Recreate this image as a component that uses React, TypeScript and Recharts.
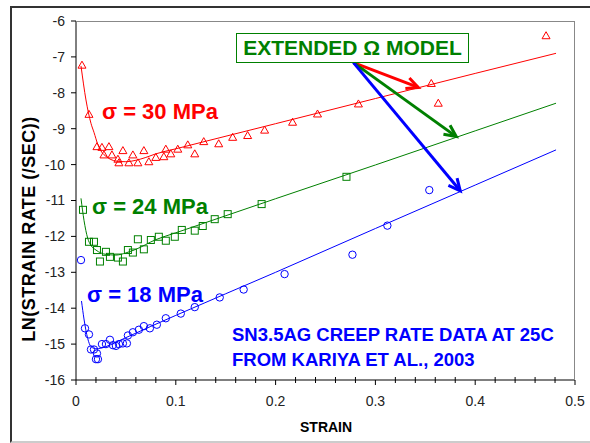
import React from "react";
import { ComposedChart, Line, Scatter, XAxis, YAxis, ReferenceLine } from "recharts";

const FONT = "Arial, 'Liberation Sans', sans-serif";
const RED = "#ff0000";
const GREEN = "#008000";
const BLUE = "#0000ff";

// sigma = 30 MPa, measured
const redStrain = [0.006, 0.013, 0.021, 0.026, 0.028, 0.033, 0.036, 0.042, 0.043, 0.047, 0.053, 0.057, 0.062, 0.068, 0.073, 0.08, 0.088, 0.09, 0.095, 0.102, 0.112, 0.119, 0.128, 0.143, 0.157, 0.172, 0.189, 0.217, 0.242, 0.283, 0.356, 0.363, 0.471];
const redRate = [-7.23, -8.6, -9.5, -9.52, -9.73, -9.5, -9.73, -9.85, -9.95, -9.61, -9.95, -9.73, -9.95, -9.61, -9.92, -9.8, -9.78, -9.57, -9.7, -9.57, -9.45, -9.7, -9.36, -9.42, -9.24, -9.19, -9.04, -8.82, -8.59, -8.31, -7.74, -8.29, -6.41];

// sigma = 24 MPa, measured
const greenStrain = [0.007, 0.013, 0.018, 0.021, 0.024, 0.03, 0.034, 0.042, 0.047, 0.052, 0.057, 0.062, 0.068, 0.075, 0.083, 0.09, 0.099, 0.106, 0.119, 0.127, 0.139, 0.152, 0.186, 0.271];
const greenRate = [-11.26, -12.15, -12.15, -12.38, -12.7, -12.43, -12.57, -12.59, -12.7, -12.38, -12.45, -12.08, -12.36, -12.1, -12.01, -12.12, -12.01, -11.82, -11.84, -11.71, -11.52, -11.38, -11.1, -10.34];

// sigma = 18 MPa, measured
const blueStrain = [0.005, 0.009, 0.013, 0.015, 0.018, 0.02, 0.021, 0.022, 0.026, 0.03, 0.034, 0.037, 0.04, 0.043, 0.047, 0.051, 0.052, 0.057, 0.063, 0.068, 0.074, 0.081, 0.09, 0.105, 0.119, 0.144, 0.168, 0.209, 0.277, 0.312, 0.354];
const blueRate = [-12.66, -14.56, -14.73, -15.15, -15.15, -15.42, -15.26, -15.42, -15.0, -15.0, -14.88, -15.03, -15.05, -15.0, -14.98, -14.98, -14.76, -14.67, -14.6, -14.5, -14.56, -14.46, -14.28, -14.15, -13.97, -13.7, -13.48, -13.05, -12.51, -11.7, -10.71];

// extended omega model curves
const redFitStrain = [0.005, 0.01, 0.015, 0.018, 0.022, 0.026, 0.03, 0.04, 0.05, 0.06, 0.07, 0.08, 0.1, 0.2, 0.3, 0.4, 0.481];
const redFitRate = [-7.25, -8.2, -8.85, -9.1, -9.45, -9.66, -9.77, -9.9, -9.92, -9.88, -9.8, -9.7, -9.56, -8.86, -8.16, -7.46, -6.9];
const greenFitStrain = [0.005, 0.008, 0.0117, 0.015, 0.02, 0.03, 0.04, 0.05, 0.06, 0.08, 0.1, 0.2, 0.3, 0.4, 0.481];
const greenFitRate = [-10.94, -11.55, -12.05, -12.25, -12.38, -12.5, -12.52, -12.46, -12.36, -12.09, -11.9, -10.95, -10.01, -9.06, -8.29];
const blueFitStrain = [0.0055, 0.008, 0.0117, 0.015, 0.02, 0.03, 0.04, 0.05, 0.1, 0.2, 0.3, 0.4, 0.481];
const blueFitRate = [-13.8, -14.3, -14.84, -15.07, -15.13, -15.07, -14.95, -14.82, -14.2, -13.0, -11.78, -10.57, -9.59];

// arrows from the "EXTENDED Ω MODEL" box to each curve
const arrowStart = { x: 0.278, y: -7.16 };
const arrowEnds = [
  { x: 0.343, y: -7.85, color: RED },
  { x: 0.381, y: -9.22, color: GREEN },
  { x: 0.385, y: -10.73, color: BLUE },
];

const xTicks = [0, 0.02, 0.04, 0.06, 0.08, 0.1, 0.12, 0.14, 0.16, 0.18, 0.2, 0.22, 0.24, 0.26, 0.28, 0.3, 0.32, 0.34, 0.36, 0.38, 0.4, 0.42, 0.44, 0.46, 0.48, 0.5];
const yTicks = [-16, -15, -14, -13, -12, -11, -10, -9, -8, -7, -6];

const pts = (xs: number[], ys: number[]) => xs.map((x, i) => ({ x, y: ys[i] }));

const Triangle = (p: any) => (
  <path d={`M${p.cx},${p.cy - 4} L${p.cx + 4},${p.cy + 3} L${p.cx - 4},${p.cy + 3} Z`} fill="none" stroke={RED} strokeWidth={1} />
);
const Square = (p: any) => (
  <rect x={p.cx - 3.5} y={p.cy - 3.5} width={7} height={7} fill="none" stroke={GREEN} strokeWidth={1} />
);
const Circle = (p: any) => <circle cx={p.cx} cy={p.cy} r={3.7} fill="none" stroke={BLUE} strokeWidth={1} />;

const XTick = (p: any) => {
  const v = p.payload.value;
  const major = Math.abs(v * 10 - Math.round(v * 10)) < 1e-6;
  return (
    <g>
      <line x1={p.x} x2={p.x} y1={major ? p.y : p.y - 3} y2={major ? p.y + 5 : p.y + 3} stroke="#000" />
      {major && (
        <text x={p.x} y={p.y + 26} textAnchor="middle" fontSize={14} fontFamily={FONT} fill="#222">
          {v}
        </text>
      )}
    </g>
  );
};

const arrowShape = (color: string) => (p: any) => {
  const { x1, y1, x2, y2 } = p;
  const a = Math.atan2(y2 - y1, x2 - x1);
  const len = 13;
  const s = 0.45;
  const h1 = `${x2 - len * Math.cos(a - s)},${y2 - len * Math.sin(a - s)}`;
  const h2 = `${x2 - len * Math.cos(a + s)},${y2 - len * Math.sin(a + s)}`;
  return (
    <g>
      <line x1={x1} y1={y1} x2={x2} y2={y2} stroke={color} strokeWidth={3} />
      <polyline points={`${h1} ${x2},${y2} ${h2}`} fill="none" stroke={color} strokeWidth={3} />
    </g>
  );
};

const label = (text: string, color: string, left: number, top: number, size: number) => (
  <div style={{ position: "absolute", left, top, color, fontSize: size, fontWeight: "bold", fontFamily: FONT, whiteSpace: "nowrap", lineHeight: 1 }}>
    {text}
  </div>
);

export default function App() {
  return (
    <div style={{ position: "absolute", left: 0, top: 0, width: 590, height: 443, background: "#fff", overflow: "hidden" }}>
      <div style={{ position: "absolute", left: 10, top: 6, width: 620, height: 433, borderTop: "2px solid #333", borderLeft: "2px solid #333", borderBottom: "2px solid #ccc" }} />
      <ComposedChart width={590} height={443} margin={{ top: 21, right: 15, bottom: 33, left: 16 }} style={{ position: "absolute", left: 0, top: 0 }}>
        <XAxis
          type="number"
          dataKey="x"
          domain={[0, 0.5]}
          ticks={xTicks}
          interval={0}
          tickSize={0}
          tickMargin={0}
          tickLine={false}
          tick={<XTick />}
          axisLine={{ stroke: "#000" }}
          height={30}
        />
        <YAxis
          type="number"
          dataKey="y"
          domain={[-16, -6]}
          ticks={yTicks}
          interval={0}
          tickSize={5}
          tickMargin={6}
          tickLine={{ stroke: "#000" }}
          axisLine={{ stroke: "#000" }}
          tick={{ fontSize: 14, fontFamily: FONT, fill: "#222" }}
          width={60}
        />
        <Line data={pts(redFitStrain, redFitRate)} dataKey="y" type="monotone" stroke={RED} strokeWidth={1} dot={false} isAnimationActive={false} />
        <Line data={pts(greenFitStrain, greenFitRate)} dataKey="y" type="monotone" stroke={GREEN} strokeWidth={1} dot={false} isAnimationActive={false} />
        <Line data={pts(blueFitStrain, blueFitRate)} dataKey="y" type="monotone" stroke={BLUE} strokeWidth={1} dot={false} isAnimationActive={false} />
        <Scatter data={pts(redStrain, redRate)} dataKey="y" shape={Triangle} isAnimationActive={false} />
        <Scatter data={pts(greenStrain, greenRate)} dataKey="y" shape={Square} isAnimationActive={false} />
        <Scatter data={pts(blueStrain, blueRate)} dataKey="y" shape={Circle} isAnimationActive={false} />
        {arrowEnds.map((e, i) => (
          <ReferenceLine key={i} segment={[arrowStart, { x: e.x, y: e.y }]} ifOverflow="visible" shape={arrowShape(e.color)} />
        ))}
      </ComposedChart>
      <div style={{ position: "absolute", left: 76, top: 21, width: 498, height: 358, borderTop: "1px solid #888", borderRight: "1px solid #888", pointerEvents: "none" }} />
      {label("σ = 30 MPa", RED, 102, 101, 22)}
      {label("σ = 24 MPa", GREEN, 92, 196, 22)}
      {label("σ = 18 MPa", BLUE, 87, 284, 22)}
      <div style={{ position: "absolute", left: 236, top: 33, width: 231, height: 28, border: `1px solid ${GREEN}`, background: "#fff", color: GREEN, fontSize: 21, fontWeight: "bold", fontFamily: FONT, lineHeight: "28px", textAlign: "center", whiteSpace: "nowrap" }}>
        EXTENDED Ω MODEL
      </div>
      {label("SN3.5AG CREEP RATE DATA AT 25C", BLUE, 232, 326, 18.5)}
      {label("FROM KARIYA ET AL., 2003", BLUE, 232, 351, 18.5)}
      <div style={{ position: "absolute", left: 29, top: 229, transform: "translate(-50%, -50%) rotate(-90deg)", fontSize: 18, letterSpacing: 0.5, fontWeight: "bold", fontFamily: FONT, whiteSpace: "nowrap", color: "#000" }}>
        LN(STRAIN RATE (/SEC))
      </div>
      {label("STRAIN", "#000", 300, 420, 14)}
    </div>
  );
}
